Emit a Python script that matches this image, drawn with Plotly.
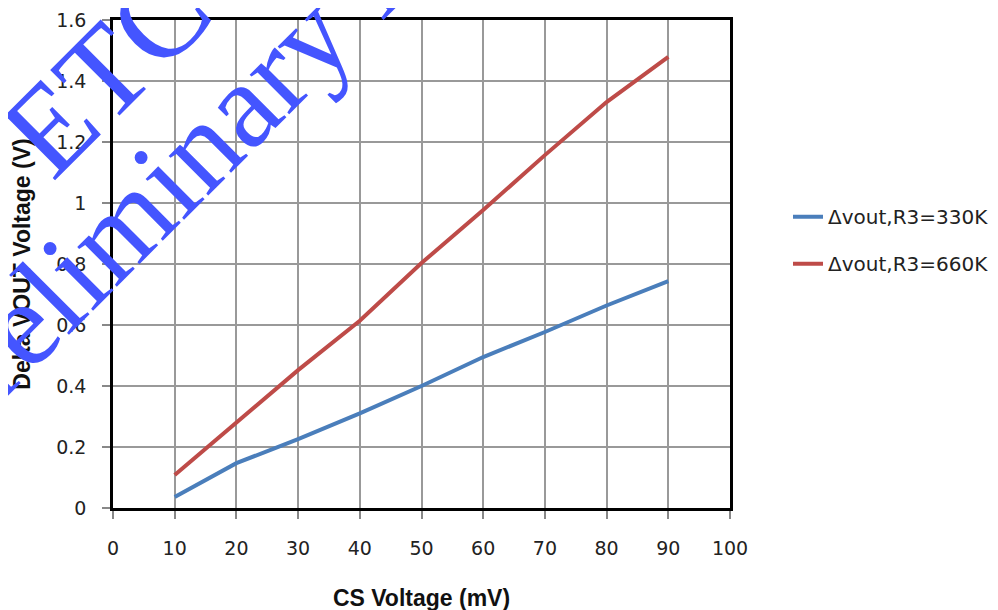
import plotly.graph_objects as go

cs_mv = [10, 20, 30, 40, 50, 60, 70, 80, 90]
dv_330k = [0.036, 0.147, 0.226, 0.31, 0.40, 0.495, 0.577, 0.664, 0.744]
dv_660k = [0.108, 0.279, 0.452, 0.614, 0.803, 0.977, 1.157, 1.331, 1.479]
series_names = ["\u0394vout,R3=330K", "\u0394vout,R3=660K"]
x_ticks = [0, 10, 20, 30, 40, 50, 60, 70, 80, 90, 100]
y_ticks = [0, 0.2, 0.4, 0.6, 0.8, 1, 1.2, 1.4, 1.6]
y_tick_text = ["0", "0.2", "0.4", "0.6", "0.8", "1", "1.2", "1.4", "1.6"]

fig = go.Figure()
fig.add_trace(go.Scatter(x=cs_mv, y=dv_330k, mode="lines", name=series_names[0],
                         legendgroup="a", line=dict(color="#4A7EBB", width=4)))
fig.add_trace(go.Scatter(x=cs_mv, y=dv_660k, mode="lines", name=series_names[1],
                         legendgroup="b", line=dict(color="#BE4B48", width=4)))

tick_font = dict(family="DejaVu Sans", size=19, color="#222")
fig.update_layout(
    width=998, height=610,
    margin=dict(l=105, r=267, t=12, b=110),
    paper_bgcolor="white", plot_bgcolor="white",
    showlegend=True,
    legend=dict(x=1.094, xanchor="left", y=0.637, yanchor="top",
                font=dict(family="DejaVu Sans", size=20, color="#222"),
                traceorder="grouped", tracegroupgap=18, bgcolor="rgba(0,0,0,0)"),
    xaxis=dict(range=[0, 100], tickvals=x_ticks, ticks="outside", ticklen=8,
               tickcolor="#888", tickwidth=1.5, ticklabelstandoff=13,
               showgrid=True, gridcolor="#999", gridwidth=1.5,
               showline=True, linecolor="black", linewidth=2.5, mirror=True,
               zeroline=False, tickfont=tick_font, automargin=False,
               title=dict(text="<b>CS Voltage (mV)</b>", standoff=33,
                          font=dict(family="Liberation Sans", size=23, color="#111"))),
    yaxis=dict(range=[0, 1.6], tickvals=y_ticks, ticktext=y_tick_text,
               ticks="outside", ticklen=8, tickcolor="#888", tickwidth=1.5,
               ticklabelstandoff=12, automargin=False,
               showgrid=True, gridcolor="#999", gridwidth=1.5,
               showline=True, linecolor="black", linewidth=2.5, mirror=True,
               zeroline=False, tickfont=tick_font,
               title=dict(text="<b>Delta VOUT Voltage (V)</b>", standoff=20,
                          font=dict(family="Liberation Sans", size=23, color="#111"))),
)

wm_color = "#4455FF"
fig.add_annotation(text="Preliminary D", xref="paper", yref="paper",
                   x=0.0898, y=0.6795, xanchor="center", yanchor="middle",
                   textangle=-45, showarrow=False,
                   font=dict(family="Liberation Serif", size=122, color=wm_color))
fig.add_annotation(text="ETC", xref="paper", yref="paper",
                   x=-0.0114, y=0.8959, xanchor="center", yanchor="middle",
                   textangle=-45, showarrow=False,
                   font=dict(family="Liberation Serif", size=124, color=wm_color))

fig.write_html("out.html")
